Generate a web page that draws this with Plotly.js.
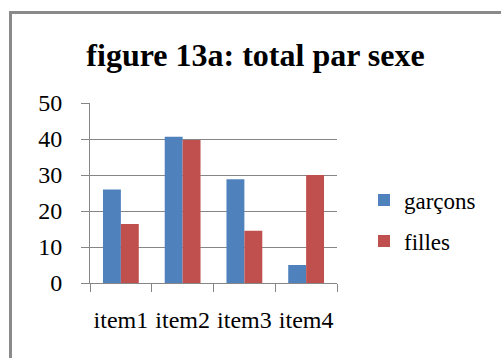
<!DOCTYPE html>
<html><head><meta charset="utf-8">
<script src="https://cdn.plot.ly/plotly-3.0.1.min.js"></script>
<style>
body{margin:0;background:#fff;}
#frame{position:absolute;left:9px;top:11px;width:600px;height:400px;border-left:3px solid #8a8a8a;border-top:3px solid #8a8a8a;}
#chart{position:absolute;left:0;top:0;width:501px;height:358px;}
</style></head>
<body>
<div id="frame"></div>
<div id="chart"></div>
<script>
const categories = ["item1","item2","item3","item4"];
const garcons = [26, 40.6, 28.8, 5];
const filles = [16.4, 39.7, 14.5, 30];
const seriesNames = ["garçons","filles"];
const yTicks = [0,10,20,30,40,50];

const font = "Liberation Serif";
const data = [
  {type:'bar', x:categories, y:garcons, name:seriesNames[0], legendgroup:'a', marker:{color:'#4F81BD'}},
  {type:'bar', x:categories, y:filles, name:seriesNames[1], legendgroup:'b', marker:{color:'#C0504D'}}
];
const layout = {
  width:501, height:358,
  margin:{l:90, r:164, t:103, b:75},
  paper_bgcolor:'rgba(0,0,0,0)', plot_bgcolor:'rgba(0,0,0,0)',
  title:{text:'<b>figure 13a: total par sexe</b>', font:{family:font, size:32, color:'#000'}, xref:'container', x:0.51, xanchor:'center', yref:'container', y:1-55/358, yanchor:'middle'},
  barmode:'group', bargap:0.42, bargroupgap:0,
  xaxis:{type:'category', tickson:'boundaries', tickangle:0, ticks:'outside', ticklen:8, tickcolor:'#868686', showline:true, linecolor:'#868686', linewidth:1, showgrid:false, tickfont:{family:font, size:24, color:'#000'}, ticklabelstandoff:15},
  yaxis:{range:[0,50], tickvals:yTicks, ticks:'outside', ticklen:8, tickcolor:'#868686', showline:true, linecolor:'#868686', showgrid:true, gridcolor:'#868686', zeroline:false, tickfont:{family:font, size:24, color:'#000'}, ticklabelstandoff:14},
  legend:{x:(364-90)/247, xanchor:'left', y:0.347, yanchor:'middle', font:{family:font, size:23, color:'#000'}, tracegroupgap:8, bgcolor:'rgba(0,0,0,0)'},
  showlegend:true
};
Plotly.newPlot('chart', data, layout, {displayModeBar:false, staticPlot:true});
</script>
</body></html>
